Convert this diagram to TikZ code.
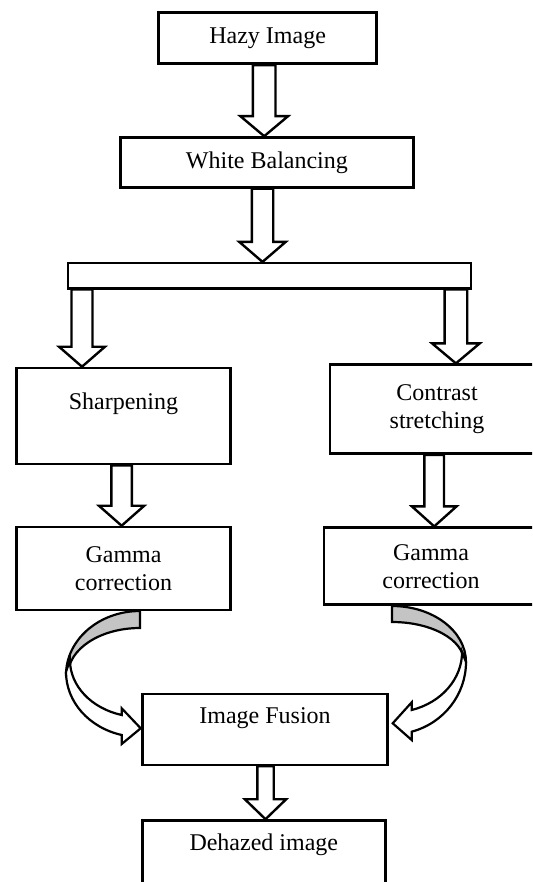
\documentclass[tikz,border=0pt]{standalone}
\usepackage{fontspec}
\setmainfont{Liberation Serif}
\usepackage{tikz}
\usetikzlibrary{positioning,calc}
\definecolor{bandgray}{RGB}{196,196,196}

% hollow block arrow from one box down to the next, at a given x
\newcommand\fatarrow[4][10.5]{%
  \path (#4,0) coordinate (fa-x);
  \path (#2.south -| fa-x) coordinate (fa-top) (#3.north -| fa-x) coordinate (fa-tip);
  \draw[fatline] ($(fa-top)+(-#1,0)$) -- ($(fa-tip)+(-#1,-20)$) -- ($(fa-tip)+({-#1-12.5},-20)$) -- (fa-tip)
    -- ($(fa-tip)+({#1+12.5},-20)$) -- ($(fa-tip)+(#1,-20)$) -- ($(fa-top)+(#1,0)$) -- cycle;
}

\begin{document}
\begin{tikzpicture}[x=1pt, y=-1pt,
  box/.style={draw, rectangle, line width=2.6pt, inner sep=3pt, align=center, font=\fontsize{24}{28}\selectfont},
  fatline/.style={draw, line width=2.4pt, fill=white, line join=miter},
  bandtop/.style={draw, line width=2.2pt, fill=bandgray},
  bandlow/.style={draw, line width=2.2pt, fill=white, line join=miter}]
\useasboundingbox (0,0) rectangle (532,882);
\clip (0,0) rectangle (532,882);

\node[box, minimum width=218pt, minimum height=51pt] (hazy) at (267.6,38.3) {Hazy Image};
\node[box, minimum width=293pt, minimum height=50pt] (white) at (266.9,162.5) {White Balancing};
\node[box, minimum width=403pt, minimum height=25pt] (split) at (269.5,275.7) {};
\node[box, minimum width=214pt, minimum height=96pt, text height=16pt, text depth=29pt] (sharpen) at (123.5,416) {Sharpening};
\node[box, minimum width=214pt, minimum height=89pt] (contrast) at (437,409.2) {Contrast\\stretching};
\node[box, minimum width=214pt, minimum height=83pt] (gammaleft) at (123.5,568.5) {Gamma\\correction};
\node[box, minimum width=214pt, minimum height=77pt] (gammaright) at (431,566.2) {Gamma\\correction};
\node[box, minimum width=245pt, minimum height=71pt, text height=16pt, text depth=28pt] (fusion) at (265,729.3) {Image Fusion};
\node[box, minimum width=243pt, minimum height=71pt, text height=16pt, text depth=28pt] (dehazed) at (263.8,856) {Dehazed image};

\fatarrow[11.3]{hazy}{white}{264.2}
\fatarrow[10.7]{white}{split}{262.5}
\fatarrow{split}{sharpen}{82}
\fatarrow[11.3]{split}{contrast}{455.9}
\fatarrow[10.2]{sharpen}{gammaleft}{121.6}
\fatarrow[9.8]{contrast}{gammaright}{434.2}
\fatarrow[8.2]{fusion}{dehazed}{265.5}

% curved arrows into the fusion box
\draw[bandtop] (140,611) arc[start angle=270, end angle=180, x radius=74, y radius=64]
  -- (68,675) arc[start angle=180, end angle=270, x radius=72, y radius=47] -- cycle;
\draw[bandlow] (66,672) arc[start angle=180, end angle=104.3, x radius=74, y radius=65]
  -- (121.7,744) -- (140.7,728.3) -- (121.7,708.3) -- (121.7,715)
  arc[start angle=105.1, end angle=180, x radius=70, y radius=57] -- cycle;
\draw[bandtop] (392,606) arc[start angle=270, end angle=360, x radius=74, y radius=56]
  -- (464,662) arc[start angle=0, end angle=-90, x radius=72, y radius=40] -- cycle;
\draw[bandlow] (466,662) arc[start angle=0, end angle=74.6, x radius=74, y radius=72.3]
  -- (411.7,740) -- (392.7,723.3) -- (411.7,702.3) -- (411.7,710)
  arc[start angle=73.7, end angle=0, x radius=70, y radius=60.4] -- cycle;
\end{tikzpicture}
\end{document}
